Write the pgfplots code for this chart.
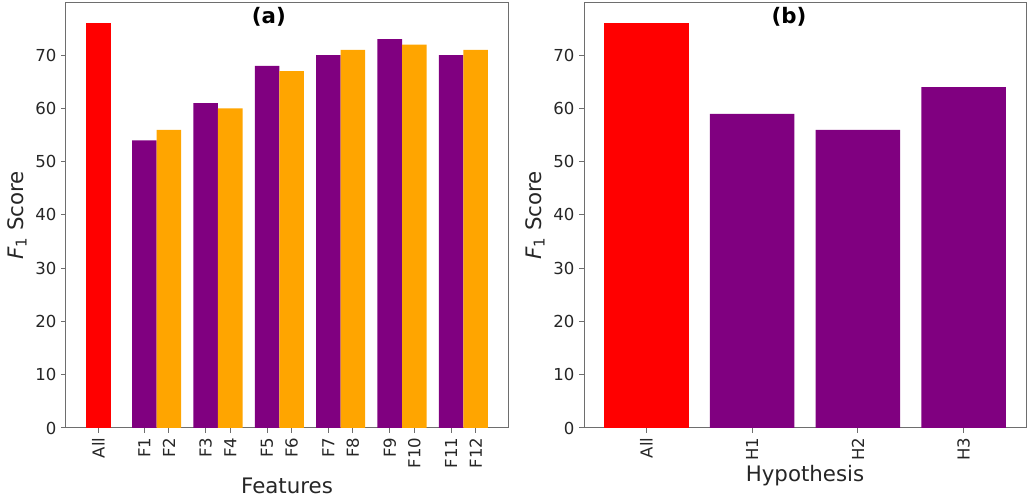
\documentclass[border=0pt]{standalone}
\usepackage{fontspec}
\setmainfont{DejaVu Sans}
\usepackage{pgfplots}
\pgfplotsset{compat=1.18}

\definecolor{cred}{RGB}{255,0,0}
\definecolor{cpurple}{RGB}{128,0,128}
\definecolor{corange}{RGB}{255,165,0}
\definecolor{frame}{RGB}{110,110,110}

\pgfplotsset{
  f1axis/.style={
    scale only axis,
    width=331.5pt, height=318.75pt,
    anchor=south west,
    ymin=0, ymax=79.8,
    ytick={0,10,20,30,40,50,60,70},
    tick pos=left,
    tick align=outside,
    major tick length=3.6pt,
    axis line style={frame, line width=0.75pt},
    every tick/.style={frame, line width=0.75pt},
    /pgf/number format/assume math mode=true,
    ticklabel style={font=\fontsize{12.4}{14}\selectfont, text=black!85},
    xticklabel style={rotate=90, anchor=east},
    label style={font=\fontsize{16}{19}\selectfont, text=black!85},
    ylabel style={at={(axis description cs:-0.097,0.5)}, rotate=0, anchor=base},
    ylabel={{\itshape F}\textsubscript{1} Score},
    clip=false,
  },
}

\begin{document}
\begin{tikzpicture}
\useasboundingbox (0,0) rectangle (771pt,376.5pt);

% (a) features
\begin{axis}[
  f1axis,
  at={(49.5pt,55.5pt)},
  xmin=-0.5275, xmax=6.6775,
  xtick={0,0.75,1.15,1.75,2.15,2.75,3.15,3.75,4.15,4.75,5.15,5.75,6.15},
  xticklabels={All,F1,F2,F3,F4,F5,F6,F7,F8,F9,F10,F11,F12},
  xlabel={Features},
  xlabel style={at={(axis description cs:0.5,-0.153)}, anchor=base},
]
\addplot[ybar, bar width=0.4, fill=cred, draw=none] coordinates {(0,76)};
\addplot[ybar, bar width=0.4, fill=cpurple, draw=none] coordinates {
  (0.75,54) (1.75,61) (2.75,68) (3.75,70) (4.75,73) (5.75,70)};
\addplot[ybar, bar width=0.4, fill=corange, draw=none] coordinates {
  (1.15,56) (2.15,60) (3.15,67) (4.15,71) (5.15,72) (6.15,71)};
\node[font=\fontsize{16}{19}\selectfont\bfseries, anchor=base] at (axis description cs:0.459,0.9506) {(a)};
\end{axis}

% (b) hypotheses
\begin{axis}[
  f1axis,
  at={(438pt,55.5pt)},
  xmin=-0.59, xmax=3.59,
  xtick={0,1,2,3},
  xticklabels={All,H1,H2,H3},
  xlabel={Hypothesis},
  xlabel style={at={(axis description cs:0.5,-0.127)}, anchor=base},
]
\addplot[ybar, bar width=0.8, fill=cred, draw=none] coordinates {(0,76)};
\addplot[ybar, bar width=0.8, fill=cpurple, draw=none] coordinates {
  (1,59) (2,56) (3,64)};
\node[font=\fontsize{16}{19}\selectfont\bfseries, anchor=base] at (axis description cs:0.464,0.9506) {(b)};
\end{axis}
\end{tikzpicture}
\end{document}
